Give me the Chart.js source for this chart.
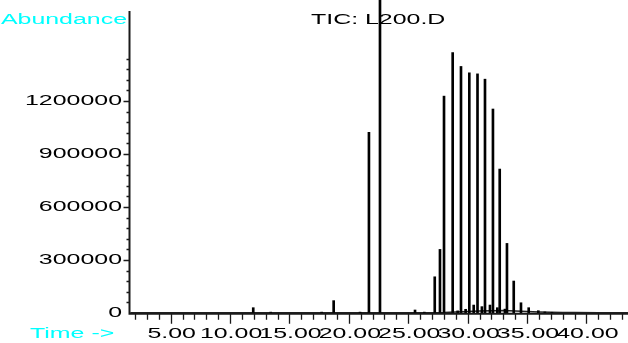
<!DOCTYPE html>
<html lang="en">
<head>
<meta charset="UTF-8">
<title>TIC: L200.D</title>
<style>
    body { margin: 0; background: #fff; }
    #tic { display: block; }
</style>
</head>
<body>
<canvas id="tic" width="628" height="343"></canvas>
<script src="https://cdn.jsdelivr.net/npm/chart.js"></script>
<script>
// peaks (retention time in min, abundance)
const peakTimes = [11.95, 13.42, 17.71, 18.72, 20.94, 21.69, 22.62, 25.57, 26.35, 27.23, 27.67, 28.01,
    28.74, 29.16, 29.44, 29.83, 30.14, 30.51, 30.83, 31.20, 31.46, 31.88, 32.13, 32.50, 32.70,
    33.14, 33.31, 33.88, 34.49, 35.14, 35.95, 36.50, 37.10];
const peakAbund = [30000, 5000, 5000, 70000, 5000, 1023000, 1900000, 17000, 5000, 205000, 360000, 1228000,
    1475000, 12000, 1396000, 21000, 1360000, 45000, 1354000, 36000, 1324000, 45000, 1155000, 30000, 815000,
    22000, 394000, 181000, 58000, 30000, 13000, 6000, 4000];

// baseline hump under the late peaks
const baseTimes = [1.6, 26, 28, 29, 30, 31, 32, 33, 34, 35, 36, 37, 38, 39, 41, 43.5];
const baseAbund = [800, 1000, 3000, 6000, 9000, 11000, 13000, 14000, 12000, 9000, 6000, 4000, 3000, 2500, 2000, 1500];

const xTickLabels = ['5.00', '10.00', '15.00', '20.00', '25.00', '30.00', '35.00', '40.00'];
const yTickLabels = ['0', '300000', '600000', '900000', '1200000'];

const FONT = '14px "Liberation Sans", Arial, sans-serif';
const STRETCH = 1.78; // the original text is drawn wide

function wideText(ctx, text, x, y, align, color) {
    ctx.save();
    ctx.font = FONT;
    ctx.fillStyle = color;
    ctx.textAlign = align;
    ctx.textBaseline = 'alphabetic';
    ctx.translate(x, y);
    ctx.scale(STRETCH, 1);
    ctx.fillText(text, 0, 0);
    ctx.restore();
}

const axesPlugin = {
    id: 'chemAxes',
    afterDraw(chart) {
        const { ctx, chartArea: a } = chart;
        const x = chart.scales.x, y = chart.scales.y;
        const ax = a.left - 0.5, ay = a.bottom + 0.7;
        ctx.save();
        ctx.strokeStyle = '#1a1a1a';
        ctx.lineWidth = 2;
        ctx.beginPath();
        ctx.moveTo(ax, a.top);
        ctx.lineTo(ax, ay + 1);
        ctx.moveTo(ax - 1, ay);
        ctx.lineTo(a.right, ay);
        ctx.stroke();

        // y ticks
        ctx.lineWidth = 1.3;
        ctx.beginPath();
        for (let v = 60000; v <= 1440000; v += 60000) {
            const p = Math.round(y.getPixelForValue(v)) + 0.5;
            const len = v % 300000 === 0 ? 6 : 3;
            ctx.moveTo(ax - len, p);
            ctx.lineTo(ax, p);
        }
        // x ticks
        for (let t = 2; t <= 43; t++) {
            const p = Math.round(x.getPixelForValue(t)) + 0.5;
            const len = t % 5 === 0 ? 10 : 6;
            ctx.moveTo(p, ay);
            ctx.lineTo(p, ay + len);
        }
        ctx.stroke();
        ctx.restore();

        yTickLabels.forEach(l => {
            wideText(ctx, l, ax - 7.5, y.getPixelForValue(Number(l)) + 3.5, 'right', '#000');
        });
        xTickLabels.forEach(l => {
            wideText(ctx, l, x.getPixelForValue(Number(l)) + 1, 338, 'center', '#000');
        });
        wideText(ctx, 'Abundance', 127, 24, 'right', '#00ffff');
        wideText(ctx, 'Time ->', 30, 337.5, 'left', '#00ffff');
        wideText(ctx, 'TIC: L200.D', 311, 24, 'left', '#000');
    }
};

new Chart(document.getElementById('tic'), {
    type: 'bar',
    data: {
        datasets: [
            {
                type: 'bar',
                data: peakTimes.map((t, i) => ({ x: t, y: peakAbund[i] })),
                backgroundColor: '#000',
                borderWidth: 0,
                barThickness: 2,
                clip: false
            },
            {
                type: 'line',
                data: baseTimes.map((t, i) => ({ x: t, y: baseAbund[i] })),
                borderColor: '#222',
                borderWidth: 1.5,
                pointRadius: 0,
                tension: 0
            }
        ]
    },
    options: {
        responsive: false,
        animation: false,
        layout: { padding: { left: 130, right: 0, top: 11, bottom: 30 } },
        plugins: { legend: { display: false }, tooltip: { enabled: false } },
        scales: {
            x: { type: 'linear', min: 1.574, max: 43.5, offset: false, display: false },
            y: { min: 0, max: 1710000, display: false }
        }
    },
    plugins: [axesPlugin]
});
</script>
</body>
</html>
